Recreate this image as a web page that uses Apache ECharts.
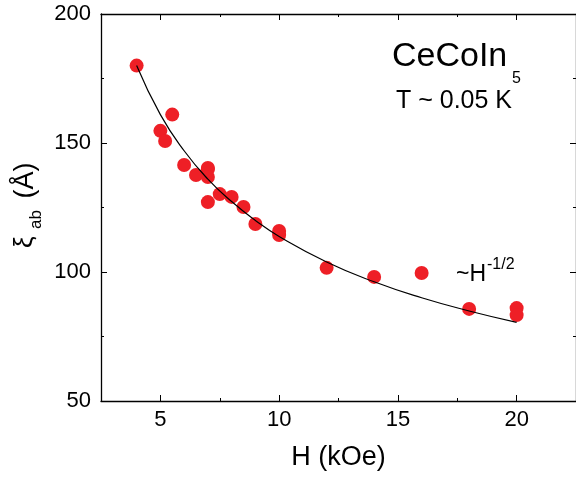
<!DOCTYPE html>
<html>
<head>
<meta charset="utf-8">
<script src="https://cdn.jsdelivr.net/npm/echarts@6/dist/echarts.min.js"></script>
<style>
  html, body { margin: 0; padding: 0; background: #fff; }
  #chart { width: 576px; height: 480px; }
</style>
</head>
<body>
<div id="chart"></div>
<script>
// field H (kOe) and coherence length xi_ab (A)
const fieldH = [4, 5, 5.2, 5.5, 6, 6.5, 7, 7, 7, 7, 7.5, 8, 8.5, 9, 10, 10, 12, 14, 16, 18, 20, 20];
const xiAb = [180, 154.7, 150.8, 161, 141.5, 137.6, 139.9, 140.3, 136.8, 127.1, 130.2, 129.1, 125.2, 118.6, 115.9, 114.3, 101.6, 98.1, 99.6, 85.7, 86.0, 83.3];

// the ~H^-1/2 fit line as drawn
const fitH = [4, 5, 6, 7, 8, 9, 10, 12, 14, 16, 18, 20];
const fitXi = [180, 161, 147, 136, 127.3, 120, 113.8, 103.9, 96.2, 90, 84.9, 80.5];

const xMajor = [5, 10, 15, 20];
const yTicks = [50, 100, 150, 200];

const FONT = 'Liberation Sans';
const points = fieldH.map((h, i) => [h, xiAb[i]]);
const fit = fitH.map((h, i) => [h, fitXi[i]]);

const chart = echarts.init(document.getElementById('chart'));

const xBase = { type: 'value', min: 2.5, max: 22.5, gridIndex: 0, splitLine: { show: false } };
const yBase = { type: 'value', min: 50, max: 200, interval: 50, splitLine: { show: false } };
const line = { show: true, lineStyle: { color: '#000', width: 1.3 } };

chart.setOption({
  animation: false,
  grid: { left: 101, top: 14, width: 478, height: 387, containLabel: false },
  xAxis: [
    Object.assign({}, xBase, {
      position: 'bottom', interval: 2.5,
      axisLine: line,
      axisTick: { inside: true, length: 3, lineStyle: { color: '#000' } },
      axisLabel: { customValues: xMajor, fontFamily: FONT, fontSize: 22, color: '#000', margin: 8 },
      name: 'H (kOe)', nameLocation: 'middle', nameGap: 43,
      nameTextStyle: { fontFamily: FONT, fontSize: 27, color: '#000' }
    }),
    Object.assign({}, xBase, {
      position: 'bottom',
      axisLine: { show: false },
      axisTick: { inside: true, length: 6, customValues: xMajor, lineStyle: { color: '#000' } },
      axisLabel: { show: false }
    }),
    Object.assign({}, xBase, {
      position: 'top', interval: 2.5,
      axisLine: line,
      axisTick: { inside: true, length: 3, lineStyle: { color: '#000' } },
      axisLabel: { show: false }
    }),
    Object.assign({}, xBase, {
      position: 'top',
      axisLine: { show: false },
      axisTick: { inside: true, length: 6, customValues: xMajor, lineStyle: { color: '#000' } },
      axisLabel: { show: false }
    })
  ],
  yAxis: [
    Object.assign({}, yBase, {
      position: 'left',
      axisLine: line,
      axisTick: { inside: true, length: 6, lineStyle: { color: '#000' } },
      minorTick: { show: true, splitNumber: 2, length: 3, lineStyle: { color: '#000' } },
      axisLabel: { fontFamily: FONT, fontSize: 22, color: '#000', margin: 10,
        formatter: v => (yTicks.indexOf(v) >= 0 ? v : '') }
    }),
    Object.assign({}, yBase, {
      position: 'right',
      axisLine: line,
      axisTick: { inside: true, length: 6, lineStyle: { color: '#000' } },
      minorTick: { show: true, splitNumber: 2, length: 3, lineStyle: { color: '#000' } },
      axisLabel: { show: false }
    })
  ],
  series: [
    {
      type: 'line', data: fit, xAxisIndex: 0, yAxisIndex: 0,
      smooth: true, showSymbol: false, symbol: 'none',
      lineStyle: { color: '#000', width: 1.2 }, z: 3
    },
    {
      type: 'scatter', data: points, xAxisIndex: 0, yAxisIndex: 0,
      symbol: 'circle', symbolSize: 14,
      itemStyle: { color: '#ee1f26', opacity: 1 }, z: 2
    }
  ],
  graphic: [
    { type: 'text', x: 392, y: 57, style: { text: 'CeCoIn', font: '34px ' + FONT, fill: '#000', textVerticalAlign: 'middle' } },
    { type: 'text', x: 512, y: 79, style: { text: '5', font: '16px ' + FONT, fill: '#000', textVerticalAlign: 'middle' } },
    { type: 'text', x: 396, y: 101, style: { text: 'T ~ 0.05 K', font: '25px ' + FONT, fill: '#000', textVerticalAlign: 'middle' } },
    { type: 'text', x: 456, y: 275, style: { text: '~H', font: '23px ' + FONT, fill: '#000', textVerticalAlign: 'middle' } },
    { type: 'text', x: 487, y: 265, style: { text: '-1/2', font: '16px ' + FONT, fill: '#000', textVerticalAlign: 'middle' } },
    // rotated y axis title: xi_ab (A)
    { type: 'text', x: 25, y: 248, rotation: Math.PI / 2, style: { text: 'ξ', font: '26px ' + FONT, fill: '#000', textVerticalAlign: 'middle' } },
    { type: 'text', x: 36, y: 229, rotation: Math.PI / 2, style: { text: 'ab', font: '17px ' + FONT, fill: '#000', textVerticalAlign: 'middle' } },
    { type: 'text', x: 26, y: 206, rotation: Math.PI / 2, style: { text: ' (Å)', font: '27px ' + FONT, fill: '#000', textVerticalAlign: 'middle' } }
  ]
});
</script>
</body>
</html>
